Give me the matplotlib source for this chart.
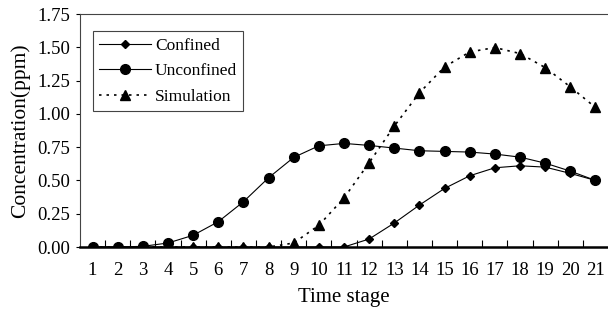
import numpy as np
import matplotlib.pyplot as plt

plt.rcParams['font.family'] = ['Liberation Serif', 'DejaVu Serif']

stages = list(range(1, 22))
confined = [0, 0, 0, 0, 0, 0, 0, 0, 0, 0, 0, 0.06, 0.18, 0.315, 0.44, 0.535, 0.595, 0.61, 0.60, 0.553, 0.50]
unconfined = [0, 0, 0.005, 0.03, 0.088, 0.19, 0.34, 0.52, 0.673, 0.76, 0.778, 0.763, 0.743, 0.723, 0.718, 0.713, 0.698, 0.675, 0.63, 0.57, 0.50]
simulation = [0, 0, 0, 0, 0, 0, 0, 0, 0.03, 0.163, 0.368, 0.633, 0.908, 1.158, 1.353, 1.465, 1.498, 1.453, 1.348, 1.203, 1.048]

fig = plt.figure(figsize=(6.08, 3.14), dpi=100)
ax = fig.add_axes([80/608, 1 - 247/314, 528/608, 233/314])

ax.plot(stages, confined, color='black', lw=0.8, marker='D', ms=4.5, label='Confined')
ax.plot(stages, unconfined, color='black', lw=0.8, marker='o', ms=7, label='Unconfined')
ax.plot(stages, simulation, color='black', lw=1.2, ls=(0, (1.5, 3)), marker='^', ms=7.5, label='Simulation')

ax.set_xlim(0.5, 21.5)
ax.set_ylim(0, 1.75)
ax.set_yticks(np.arange(0, 1.76, 0.25))
ax.set_yticklabels(['%.2f' % v for v in np.arange(0, 1.76, 0.25)])
ax.set_xticks(stages)
ax.set_xticks(np.arange(1.5, 21.5, 1), minor=True)
ax.tick_params(axis='x', which='major', length=0, pad=11, labelsize=13.5)
ax.tick_params(axis='x', which='minor', direction='in', length=5, width=0.8)
ax.tick_params(axis='y', direction='out', length=3, width=0.8, labelsize=13.5, pad=4)

for s in ['left', 'top', 'right']:
    ax.spines[s].set_linewidth(0.8)
    ax.spines[s].set_color('#444444')
ax.spines['bottom'].set_linewidth(1.8)
ax.spines['bottom'].set_color('black')
ax.spines['right'].set_visible(False)

ax.set_xlabel('Time stage', fontsize=15, labelpad=6)
ax.set_ylabel('Concentration(ppm)', fontsize=15.5, labelpad=5)

leg = ax.legend(loc='upper left', bbox_to_anchor=(0.025, 0.925), fontsize=12.5,
                frameon=True, fancybox=False, edgecolor='#444444', framealpha=1,
                handlelength=3.0, borderpad=0.35, labelspacing=0.55, handletextpad=0.2,
                borderaxespad=0)
leg.get_frame().set_linewidth(0.8)

fig.savefig('out.png', dpi=100)
